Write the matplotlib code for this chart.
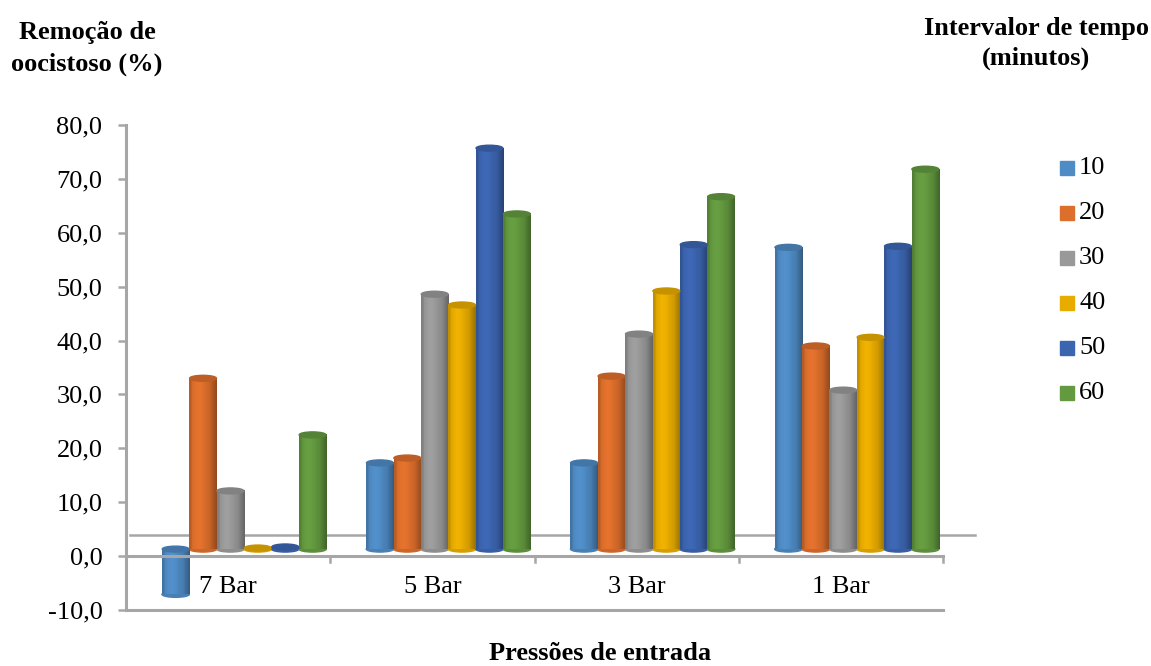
import numpy as np
import matplotlib
matplotlib.use("Agg")
import matplotlib.pyplot as plt
from matplotlib.patches import Ellipse, Rectangle
from matplotlib.colors import to_rgb

plt.rcParams['font.family'] = ['Liberation Serif', 'DejaVu Serif']

categories = ['7 Bar', '5 Bar', '3 Bar', '1 Bar']
series = ['10', '20', '30', '40', '50', '60']
values = {
    '10': [-8.4, 16.0, 16.0, 56.0],
    '20': [31.7, 16.9, 32.1, 37.7],
    '30': [10.8, 47.3, 39.9, 29.5],
    '40': [0.2, 45.3, 47.9, 39.3],
    '50': [0.4, 74.4, 56.5, 56.2],
    '60': [21.2, 62.2, 65.4, 70.5],
}
colors = ['#4F8BC4', '#DD6F2C', '#999999', '#E8AC00', '#3C65B0', '#63993F']
yticks = [-10, 0, 10, 20, 30, 40, 50, 60, 70, 80]

# 3d-ish look of the original excel chart
BASE = 1.3       # bars sit a bit behind the front floor edge
START = 0.176    # left edge of first bar inside a category
W = 0.1341       # bar width
CAP = 1.1        # height of the cylinder cap ellipse
FS = 19


def shade(color, n=64):
    c = np.array(to_rgb(color))
    t = np.linspace(0, 1, n)
    f = 0.88 + 0.16 * np.exp(-((t - 0.35) / 0.3) ** 2)
    f[t > 0.75] *= 1 - (t[t > 0.75] - 0.75) * 1.0
    f[t < 0.08] *= 0.9
    rgb = np.clip(c[None, :] * f[:, None], 0, 1)
    return rgb[None, :, :]


fig = plt.figure(figsize=(11.51, 6.66), dpi=100)
ax = fig.add_axes([126 / 1151, 56 / 666, 817 / 1151, 485 / 666])

gray = '#A6A6A6'
# floor back edge and zero line
ax.plot([0.02, 4.156], [3.9, 3.9], color=gray, lw=1.8, zorder=1, clip_on=False)
ax.plot([0, 4], [0, 0], color=gray, lw=2.2, zorder=5, clip_on=False)
for k in range(1, 5):
    ax.plot([k, k], [0, -1.1], color=gray, lw=1.8, zorder=5, clip_on=False)

for j, s in enumerate(series):
    for i, v in enumerate(values[s]):
        x0 = i + START + j * W
        lo = BASE + min(v, 0)
        hi = BASE + max(v, 0)
        ax.imshow(shade(colors[j]), extent=[x0, x0 + W, lo, hi],
                  aspect='auto', zorder=3, interpolation='bilinear')
        c = np.array(to_rgb(colors[j]))
        ax.add_patch(Ellipse((x0 + W / 2, lo), W, CAP, color=c * 0.92, zorder=2.9))
        ax.add_patch(Ellipse((x0 + W / 2, hi), W * 0.98, CAP,
                             color=np.clip(c * 0.85, 0, 1), zorder=3.1))

ax.set_xlim(0, 4)
ax.set_ylim(-10, 80)
ax.set_yticks(yticks)
ax.set_yticklabels([f'{t:.1f}'.replace('.', ',') for t in yticks], fontsize=FS)
ax.set_xticks([])
ax.tick_params(axis='y', length=6, width=1.8, color=gray, pad=11)
for sp in ['top', 'right']:
    ax.spines[sp].set_visible(False)
for sp in ['left', 'bottom']:
    ax.spines[sp].set_color(gray)
    ax.spines[sp].set_linewidth(2.2)

for i, cat in enumerate(categories):
    ax.text(i + 0.5, -5.8, cat, ha='center', va='center', fontsize=FS)

# titles
fig.text(87 / 1151, 1 - 33 / 666, 'Remoção de', ha='center', va='center',
         fontsize=FS, fontweight='bold')
fig.text(87 / 1151, 1 - 64 / 666, 'oocistoso (%)', ha='center', va='center',
         fontsize=FS, fontweight='bold')
fig.text(1036 / 1151, 1 - 28 / 666, 'Intervalor de tempo', ha='center', va='center',
         fontsize=FS, fontweight='bold')
fig.text(1036 / 1151, 1 - 58 / 666, '(minutos)', ha='center', va='center',
         fontsize=FS, fontweight='bold')
fig.text(600 / 1151, 1 - 653 / 666, 'Pressões de entrada', ha='center', va='center',
         fontsize=FS, fontweight='bold')

# legend
for j, s in enumerate(series):
    yc = 168 + 45 * j
    fig.add_artist(Rectangle((1060 / 1151, 1 - (yc + 7) / 666), 14 / 1151, 14 / 666,
                             transform=fig.transFigure, color=colors[j]))
    fig.text(1079 / 1151, 1 - yc / 666, s, ha='left', va='center', fontsize=FS)

fig.savefig('out.png', dpi=100)
